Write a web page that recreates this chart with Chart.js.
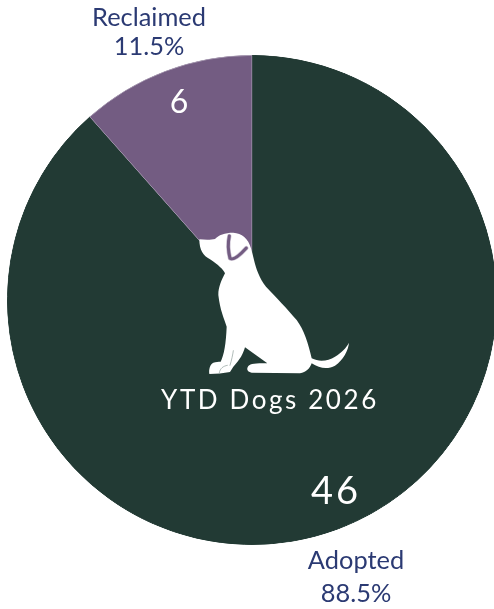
<!DOCTYPE html>
<html>
<head>
<meta charset="utf-8">
<script src="https://cdn.jsdelivr.net/npm/chart.js@4"></script>
<style>
html,body{margin:0;padding:0;background:#fff;overflow:hidden;width:494px;height:609px}
#wrap{position:relative;width:500px;height:609px}
</style>
</head>
<body>
<div id="wrap"><canvas id="c" width="500" height="609"></canvas></div>
<script>
const categories = ["Adopted", "Reclaimed"];
const counts = [46, 6];
const percents = ["88.5%", "11.5%"];
const sliceColors = ["#223a34", "#735c82"];
const sliceEdges = ["#223a34", "#a89bb2"];
const centerTitle = "YTD Dogs 2026";

const FONT = 'Lato, "Open Sans", sans-serif';
const NAVY = "#2b3a73";

function drawText(ctx, text, x, y, size, color, spacing) {
  ctx.font = size + "px " + FONT;
  ctx.fillStyle = color;
  ctx.textAlign = "center";
  ctx.textBaseline = "alphabetic";
  ctx.letterSpacing = (spacing || 0) + "px";
  ctx.fillText(text, x, y);
  ctx.letterSpacing = "0px";
}

const dogBody = new Path2D("M58 58 C75 60 95 60 105 57 C115 45 135 38 160 38 C185 40 205 55 213 85 C217 100 220 110 222 120 C228 145 238 175 258 200 C285 228 325 270 350 300 C372 330 385 370 395 415 C420 428 445 422 465 410 C485 398 500 382 507 368 C505 390 490 420 465 437 C445 448 420 447 395 430 C390 445 378 458 360 460 L215 458 C203 456 198 448 205 438 C212 431 225 430 262 430 L195 382 C190 400 180 420 160 440 L150 456 C130 460 110 462 88 462 C86 448 90 433 100 428 C108 425 115 425 122 425 C132 405 138 370 140 320 C132 295 120 270 115 225 C115 200 125 180 135 160 C130 148 115 135 90 118 C70 108 58 90 58 58 Z");
const dogEar = new Path2D("M148 48 C143 70 145 95 150 115 C160 122 180 105 199 84");
const dogPaw = new Path2D("M118 458 C120 445 130 438 142 436 M150 436 C155 420 158 405 160 392");

const overlay = {
  id: "overlay",
  afterDatasetsDraw(chart) {
    const ctx = chart.ctx;
    ctx.save();
    ctx.translate(180, 220);
    ctx.scale(1 / 3, 1 / 3);
    ctx.fillStyle = "#ffffff";
    ctx.fill(dogBody);
    ctx.lineCap = "round";
    ctx.lineJoin = "round";
    ctx.strokeStyle = "#c9c0d0";
    ctx.lineWidth = 13;
    ctx.stroke(dogEar);
    ctx.strokeStyle = sliceColors[1];
    ctx.lineWidth = 9;
    ctx.stroke(dogEar);
    ctx.strokeStyle = "#8a9a95";
    ctx.lineWidth = 2;
    ctx.stroke(dogPaw);
    ctx.restore();

    ctx.save();
    drawText(ctx, centerTitle, 270, 409, 26, "#ffffff", 2.6);
    drawText(ctx, String(counts[0]), 336, 504, 38, "#ffffff", 3);
    drawText(ctx, String(counts[1]), 179, 113, 32, "#ffffff", 0);
    drawText(ctx, categories[1], 149, 26, 25.4, NAVY, 0);
    drawText(ctx, percents[1], 149, 55, 25.4, NAVY, 0);
    drawText(ctx, categories[0], 356, 569, 25.4, NAVY, 0);
    drawText(ctx, percents[0], 356, 602, 25.4, NAVY, 0);
    ctx.restore();
  }
};

new Chart(document.getElementById("c"), {
  type: "pie",
  data: {
    labels: categories,
    datasets: [{
      data: counts,
      backgroundColor: sliceColors,
      borderColor: sliceEdges,
      borderWidth: 0.5,
      borderAlign: "inner"
    }]
  },
  options: {
    responsive: false,
    animation: false,
    layout: { padding: { left: 7, right: 3, top: 55, bottom: 64 } },
    plugins: { legend: { display: false }, tooltip: { enabled: false } }
  },
  plugins: [overlay]
});
</script>
</body>
</html>
